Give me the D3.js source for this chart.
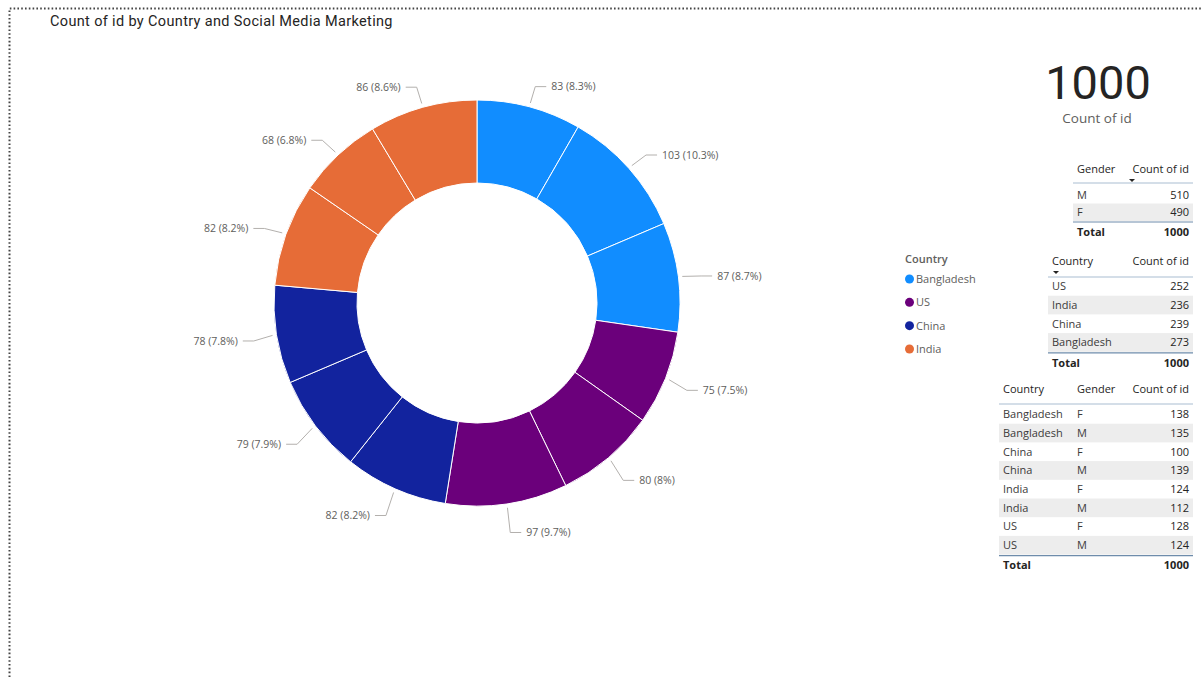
<!DOCTYPE html>
<html>
<head>
<meta charset="utf-8">
<script src="https://cdn.jsdelivr.net/npm/d3@7/dist/d3.min.js"></script>
<style>
  html, body { margin: 0; padding: 0; background: #ffffff; }
  svg { display: block; }
</style>
</head>
<body>
<svg id="chart" width="1201" height="677"></svg>
<script>
// Donut slices (clockwise from 12 o'clock), grouped by country
const countries = ["Bangladesh", "US", "China", "India"];
const countryColors = ["#118DFF", "#6B007B", "#12239E", "#E66C37"];
const sliceCountry = ["Bangladesh", "Bangladesh", "Bangladesh", "US", "US", "US",
                      "China", "China", "China", "India", "India", "India"];
const sliceValues = [83, 103, 87, 75, 80, 97, 82, 79, 78, 82, 68, 86];

// Gender table
const genderRows = ["M", "F"];
const genderCounts = [510, 490];

// Country table
const countryRows = ["US", "India", "China", "Bangladesh"];
const countryCounts = [252, 236, 239, 273];

// Country x Gender table
const crossCountry = ["Bangladesh", "Bangladesh", "China", "China", "India", "India", "US", "US"];
const crossGender = ["F", "M", "F", "M", "F", "M", "F", "M"];
const crossCounts = [138, 135, 100, 139, 124, 112, 128, 124];

const svg = d3.select("#chart");
const FONT = "'Open Sans', 'Noto Sans', sans-serif";
const TITLE_FONT = "Roboto, 'DejaVu Sans', sans-serif";

// Dotted visual border
svg.append("path")
  .attr("d", "M9.5,677 L9.5,8.5 L1201,8.5")
  .attr("fill", "none")
  .attr("stroke", "#444")
  .attr("stroke-width", 2)
  .attr("stroke-dasharray", "1.6,2.2");

// Title
svg.append("text")
  .attr("x", 50).attr("y", 26)
  .attr("font-family", TITLE_FONT)
  .attr("font-size", 14.5)
  .attr("letter-spacing", 0.35)
  .attr("fill", "#252423")
  .text("Count of id by Country and Social Media Marketing");

// ---- Donut ----
const cx = 477, cy = 303, outerR = 203, innerR = 120;
const color = d3.scaleOrdinal().domain(countries).range(countryColors);
const total = d3.sum(sliceValues);
const pct = d3.format(".1~f");

const slices = sliceValues.map((v, i) => ({ value: v, country: sliceCountry[i] }));
const pie = d3.pie().value(d => d.value).sort(null);
const arcs = pie(slices);
const arc = d3.arc().innerRadius(innerR).outerRadius(outerR);

const g = svg.append("g").attr("transform", `translate(${cx},${cy})`);
g.selectAll("path.slice")
  .data(arcs)
  .join("path")
  .attr("class", "slice")
  .attr("d", arc)
  .attr("fill", d => color(d.data.country))
  .attr("stroke", "#ffffff")
  .attr("stroke-width", 1);

// Leader lines and data labels (labels in the lower half sit a little lower)
const startArc = d3.arc().innerRadius(outerR + 4).outerRadius(outerR + 4);
const elbowArc = d3.arc().innerRadius(outerR + 23).outerRadius(outerR + 23);
const labels = g.selectAll("g.lbl").data(arcs).join("g").attr("class", "lbl");
labels.each(function(d) {
  const mid = (d.startAngle + d.endAngle) / 2;
  const side = Math.sin(mid) >= 0 ? 1 : -1;
  const drop = 2 + 4 * Math.max(0, -Math.cos(mid));
  const p0 = startArc.centroid(d);
  const e = elbowArc.centroid(d);
  const p1 = [e[0], e[1] + drop];
  const p2 = [p1[0] + side * 11, p1[1]];
  const sel = d3.select(this);
  sel.append("polyline")
    .attr("points", [p0, p1, p2].map(p => p.join(",")).join(" "))
    .attr("fill", "none")
    .attr("stroke", "#B3B0AD")
    .attr("stroke-width", 1);
  sel.append("text")
    .attr("x", p2[0] + side * 5)
    .attr("y", p2[1])
    .attr("dy", "0.35em")
    .attr("text-anchor", side > 0 ? "start" : "end")
    .attr("font-family", FONT)
    .attr("font-size", 10.5)
    .attr("fill", "#605E5C")
    .text(`${d.data.value} (${pct(d.data.value / total * 100)}%)`);
});

// ---- Legend ----
const legend = svg.append("g").attr("transform", "translate(905,0)");
legend.append("text")
  .attr("x", 0).attr("y", 263)
  .attr("font-family", FONT)
  .attr("font-size", 11)
  .attr("font-weight", 600)
  .attr("fill", "#605E5C")
  .text("Country");
const legendY = d3.scalePoint().domain(countries).range([279, 349]);
const li = legend.selectAll("g.item").data(countries).join("g").attr("class", "item")
  .attr("transform", d => `translate(0,${legendY(d)})`);
li.append("circle").attr("cx", 4.5).attr("cy", 0).attr("r", 4.5).attr("fill", d => color(d));
li.append("text")
  .attr("x", 11).attr("y", 0).attr("dy", "0.35em")
  .attr("font-family", FONT).attr("font-size", 11)
  .attr("fill", "#605E5C")
  .text(d => d);

// ---- Card ----
svg.append("text")
  .attr("x", 1098).attr("y", 99)
  .attr("text-anchor", "middle")
  .attr("font-family", TITLE_FONT)
  .attr("font-size", 47)
  .attr("fill", "#252423")
  .text(d3.sum(genderCounts));
svg.append("text")
  .attr("x", 1097).attr("y", 123)
  .attr("text-anchor", "middle")
  .attr("font-family", FONT)
  .attr("font-size", 13.5)
  .attr("fill", "#605E5C")
  .text("Count of id");

// ---- Tables ----
function drawTable(opts) {
  const t = svg.append("g");
  const { left, right, headerY, rowStart, rowH, cols, rows, totalRow, sortCol } = opts;
  // header
  cols.forEach((c, i) => {
    t.append("text")
      .attr("x", c.align === "end" ? right - 4 : c.x)
      .attr("y", headerY)
      .attr("text-anchor", c.align === "end" ? "end" : "start")
      .attr("font-family", FONT).attr("font-size", 11)
      .attr("fill", "#252423")
      .text(c.name);
  });
  // sort indicator
  if (sortCol != null) {
    const sx = opts.sortX;
    t.append("path")
      .attr("d", `M${sx - 3},${headerY + 6} L${sx + 3},${headerY + 6} L${sx},${headerY + 9} Z`)
      .attr("fill", "#252423");
  }
  const headerLine = headerY + opts.headerGap;
  t.append("line")
    .attr("x1", left).attr("x2", right)
    .attr("y1", headerLine).attr("y2", headerLine)
    .attr("stroke", "#C6D3E0").attr("stroke-width", 1.5);
  // body rows
  rows.forEach((r, i) => {
    const top = rowStart + i * rowH;
    if (i % 2 === 1) {
      t.append("rect")
        .attr("x", left).attr("y", top)
        .attr("width", right - left).attr("height", rowH)
        .attr("fill", "#EDEDED");
    }
    r.forEach((cell, j) => {
      const c = cols[j];
      t.append("text")
        .attr("x", c.align === "end" ? right - 4 : c.x)
        .attr("y", top + rowH / 2).attr("dy", "0.35em")
        .attr("text-anchor", c.align === "end" ? "end" : "start")
        .attr("font-family", FONT).attr("font-size", 11)
        .attr("fill", c.align === "end" ? "#252423" : "#3B3A39")
        .text(cell);
    });
  });
  const bottom = rowStart + rows.length * rowH + 1;
  t.append("line")
    .attr("x1", left).attr("x2", right)
    .attr("y1", bottom).attr("y2", bottom)
    .attr("stroke", "#6E8CAB").attr("stroke-width", 1.2);
  t.append("text")
    .attr("x", cols[0].x).attr("y", bottom + 10).attr("dy", "0.35em")
    .attr("font-family", FONT).attr("font-size", 11).attr("font-weight", 700)
    .attr("fill", "#252423").text("Total");
  t.append("text")
    .attr("x", right - 4).attr("y", bottom + 10).attr("dy", "0.35em")
    .attr("text-anchor", "end")
    .attr("font-family", FONT).attr("font-size", 11).attr("font-weight", 700)
    .attr("fill", "#252423").text(totalRow);
}

drawTable({
  left: 1073, right: 1193, headerY: 173, headerGap: 10, rowStart: 186, rowH: 17.5,
  cols: [{ name: "Gender", x: 1077 }, { name: "Count of id", align: "end" }],
  rows: genderRows.map((g, i) => [g, genderCounts[i]]),
  totalRow: d3.sum(genderCounts),
  sortCol: 1, sortX: 1132
});

drawTable({
  left: 1048, right: 1193, headerY: 265, headerGap: 12, rowStart: 277, rowH: 18.7,
  cols: [{ name: "Country", x: 1052 }, { name: "Count of id", align: "end" }],
  rows: countryRows.map((c, i) => [c, countryCounts[i]]),
  totalRow: d3.sum(countryCounts),
  sortCol: 0, sortX: 1056
});

drawTable({
  left: 999, right: 1193, headerY: 393, headerGap: 11, rowStart: 405, rowH: 18.7,
  cols: [{ name: "Country", x: 1003 }, { name: "Gender", x: 1077 }, { name: "Count of id", align: "end" }],
  rows: crossCountry.map((c, i) => [c, crossGender[i], crossCounts[i]]),
  totalRow: d3.sum(crossCounts),
  sortCol: null
});
</script>
</body>
</html>
